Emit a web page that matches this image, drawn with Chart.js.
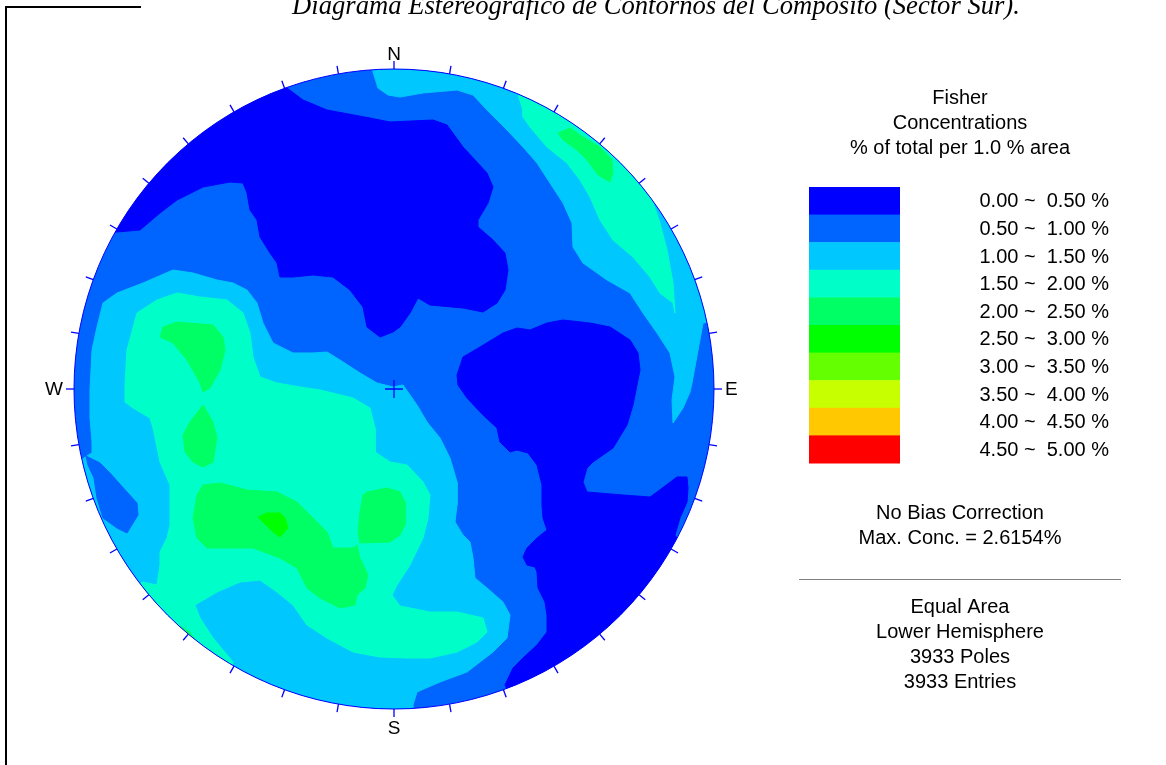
<!DOCTYPE html>
<html>
<head>
<meta charset="utf-8">
<script src="https://cdn.jsdelivr.net/npm/chart.js@4.4.1/dist/chart.umd.min.js"></script>
<style>
  html, body { margin: 0; padding: 0; background: #fff; }
  #net { display: block; }
</style>
</head>
<body>
<canvas id="net" width="1166" height="765"></canvas>
<script>
// contour classes (Fisher concentration, % of total per 1 % area)
var levelLabels = ['0.00 ~  0.50 %', '0.50 ~  1.00 %', '1.00 ~  1.50 %', '1.50 ~  2.00 %', '2.00 ~  2.50 %',
	'2.50 ~  3.00 %', '3.00 ~  3.50 %', '3.50 ~  4.00 %', '4.00 ~  4.50 %', '4.50 ~  5.00 %'];
var levelColors = ['#0000ff', '#0064ff', '#00c8ff', '#00ffc8', '#00ff64',
	'#00ff00', '#64ff00', '#c8ff00', '#ffc800', '#ff0000'];

// net radius in projection units, background class
var netRadius = 32;
var baseLevel = 1;

// contour outlines (x east, y north)
var lowNW = [[-28.9,15.6],[-25.4,15.9],[-23.4,17.6],[-21.7,18.9],[-19.1,20.2],[-16.4,20.7],[-15.1,20.6],[-14.7,19.6],
	[-14.4,17.9],[-13.7,16.9],[-13.4,15.2],[-12.4,13.6],[-11.7,12.6],[-11.4,11.2],[-10.1,11.2],[-8.1,11.4],[-6.1,11.2],
	[-4.4,9.9],[-3.1,8.2],[-2.7,6.2],[-1.4,5.2],[-0.1,5.7],[0.6,6.2],[1.6,7.6],[2.4,9.1],[3.6,8.4],[6.9,8.1],[8.9,7.7],
	[10.3,8.6],[11.1,9.9],[11.4,11.9],[11.1,13.6],[9.9,14.9],[8.4,16.2],[8.4,16.9],[9.4,18.6],[9.9,20.2],[9.3,21.6],
	[6.9,24.2],[5.3,26.4],[3.9,26.9],[-0.4,26.7],[-2.4,27.1],[-6.7,27.9],[-9.1,28.9],[-10.7,30.1],[-12.4,32.9],
	[-27.4,26.9],[-31.4,15.9]];
var lowEast = [[6.3,1.4],[6.9,3.2],[8.6,4.2],[10.9,5.6],[12.3,6.1],[13.6,5.9],[15.3,6.6],[16.9,6.9],[19.6,6.6],
	[21.6,6.2],[23.6,4.9],[24.4,3.6],[24.6,1.9],[24.3,0.4],[23.9,-1.6],[23.3,-3.6],[21.9,-5.9],[19.9,-7.3],[19.3,-7.9],
	[18.9,-9.3],[19.3,-10.3],[22.9,-10.6],[25.6,-10.8],[26.3,-10.3],[28.3,-8.8],[29.3,-8.8],[29.4,-9.9],[29.3,-11.3],
	[28.6,-12.9],[28.1,-14.6],[29.6,-17.1],[12.6,-33.1],[11.1,-29.6],[11.9,-27.9],[12.9,-26.9],[14.3,-25.6],
	[15.3,-24.3],[15.3,-22.6],[15.1,-21.3],[14.4,-19.9],[14.3,-18.3],[14.1,-17.8],[13.3,-17.6],[12.9,-16.8],
	[13.3,-15.9],[14.3,-14.9],[15.3,-14.1],[14.9,-12.9],[14.8,-11.6],[14.8,-9.6],[14.3,-7.6],[13.4,-6.4],[12.3,-6.1],
	[11.6,-6.3],[10.6,-5.3],[10.3,-3.9],[8.9,-2.6],[7.3,-0.9],[6.4,0.4]];
var midNE = [[-2.4,32.9],[-2.1,31.7],[-1.6,30.1],[-0.6,29.4],[0.6,29.2],[2.9,29.6],[6.3,29.9],[7.9,29.4],[9.3,27.9],
	[11.3,25.9],[12.9,24.2],[14.3,22.6],[15.6,20.6],[16.9,18.6],[17.8,16.6],[17.9,14.2],[18.9,12.6],[21.3,10.9],
	[23.6,9.6],[24.9,7.6],[26.3,5.6],[27.6,3.6],[28.1,1.2],[27.8,-1.1],[27.9,-3.4],[28.9,-1.9],[29.6,-0.3],[29.8,0.6],
	[30.9,6.6],[32.6,6.9],[33.6,18.9],[20.6,34.9],[0.6,34.9]];
var midSW = [[-29.1,8.6],[-27.7,9.6],[-25.1,10.6],[-22.1,11.9],[-20.1,11.6],[-17.7,10.9],[-16.1,10.6],[-14.7,9.9],
	[-13.7,8.6],[-13.1,6.6],[-12.1,4.6],[-10.1,3.6],[-8.1,3.6],[-6.7,3.7],[-5.4,2.9],[-3.4,1.6],[-1.7,0.6],[-0.1,0.2],
	[0.9,0.4],[2.3,-1.6],[3.3,-3.3],[4.6,-4.9],[5.6,-6.9],[6.3,-9.3],[6.3,-11.6],[6.1,-13.3],[6.9,-14.6],[7.6,-15.3],
	[7.9,-16.9],[8.1,-18.9],[9.3,-19.9],[10.9,-21.3],[11.6,-22.6],[11.3,-24.9],[9.9,-26.3],[7.3,-28.3],[4.6,-29.3],
	[2.3,-30.3],[1.9,-31.6],[2.1,-34.1],[-29.4,-31.1],[-35.4,-8.1],[-31.6,-7.3],[-30.1,-6.3],[-30.2,-5.3],
	[-30.4,-2.9],[-30.4,-0.1],[-30.2,3.9],[-29.7,6.2]];
var baseBlobW = [[-30.8,-6.7],[-29.4,-7.4],[-28.4,-8.4],[-26.7,-10.3],[-25.7,-11.4],[-25.6,-12.6],[-26.7,-14.4],
	[-27.7,-13.9],[-29.1,-12.9],[-29.7,-10.9],[-30.0,-8.9],[-30.6,-7.6]];
var highNE = [[12.1,30.4],[12.9,27.9],[12.9,27.2],[13.6,26.2],[15.3,24.2],[17.3,22.6],[18.6,20.9],[19.6,19.2],
	[20.6,16.9],[21.9,14.9],[23.9,13.2],[25.6,11.2],[26.6,9.6],[27.9,8.6],[28.1,7.6],[27.9,10.6],[27.3,13.9],
	[26.6,16.6],[25.8,18.9],[26.6,20.9],[20.6,29.9]];
var highW = [[-26.7,3.9],[-25.7,7.6],[-23.7,8.9],[-21.7,9.6],[-19.4,9.2],[-16.7,8.9],[-15.1,7.6],[-14.4,5.6],
	[-14.1,3.2],[-13.4,1.2],[-11.7,0.6],[-9.4,0.2],[-7.4,-0.1],[-4.1,-0.9],[-2.4,-1.9],[-1.9,-3.9],[-1.9,-6.3],
	[-0.4,-7.3],[1.3,-7.6],[2.9,-9.3],[3.6,-10.6],[3.4,-12.9],[2.9,-14.9],[1.6,-17.6],[0.3,-19.6],[-0.2,-20.6],
	[0.6,-21.7],[3.6,-22.3],[6.3,-22.3],[8.9,-22.9],[9.3,-24.3],[8.3,-25.3],[6.3,-26.3],[3.6,-26.9],[1.3,-26.9],
	[-1.4,-26.8],[-4.1,-26.3],[-6.7,-24.9],[-8.7,-23.6],[-10.1,-21.6],[-11.7,-20.3],[-13.4,-19.1],[-15.4,-19.3],
	[-17.7,-20.3],[-19.9,-21.6],[-19.4,-22.9],[-18.1,-24.9],[-16.1,-27.3],[-16.9,-31.1],[-27.4,-22.1],[-25.2,-19.3],
	[-23.7,-19.6],[-23.4,-17.6],[-23.4,-16.3],[-22.7,-14.9],[-22.4,-13.6],[-22.4,-9.6],[-23.4,-7.3],[-24.1,-3.9],
	[-24.4,-2.9],[-26.1,-1.9],[-26.9,-1.3],[-26.9,0.4]];
var peakNE = [[16.4,25.6],[17.6,26.1],[18.9,25.2],[20.6,24.2],[21.8,22.9],[21.9,21.6],[21.6,20.7],[20.4,21.4],
	[19.3,22.9],[18.3,23.9],[16.9,24.9]];
var peakNW = [[-23.1,6.2],[-21.7,6.7],[-18.1,6.4],[-17.1,5.2],[-16.9,3.9],[-17.4,1.9],[-18.4,0.1],[-19.1,-0.3],
	[-19.4,0.6],[-20.7,2.9],[-22.1,4.6],[-23.4,5.2]];
var peakW = [[-19.1,-1.6],[-18.1,-3.3],[-17.7,-4.9],[-18.1,-7.3],[-19.1,-7.8],[-20.1,-7.3],[-20.9,-6.3],
	[-21.1,-4.6],[-20.4,-3.3]];
var peakSW = [[-19.1,-9.6],[-17.4,-9.4],[-14.7,-10.1],[-11.7,-10.3],[-9.7,-11.3],[-8.1,-12.9],[-6.7,-14.3],
	[-6.1,-15.9],[-4.1,-15.9],[-3.7,-15.6],[-3.4,-16.9],[-2.6,-18.6],[-2.9,-19.9],[-3.7,-20.6],[-3.9,-21.6],
	[-5.4,-21.9],[-7.4,-20.9],[-8.7,-19.9],[-9.7,-17.9],[-11.4,-16.9],[-14.1,-15.9],[-16.7,-15.9],[-18.7,-15.9],
	[-19.7,-14.9],[-20.1,-12.9],[-19.7,-10.6]];
var peakS = [[-3.1,-10.6],[-2.7,-10.3],[-0.7,-9.9],[0.6,-10.3],[1.1,-11.3],[1.1,-13.6],[0.6,-14.6],[-0.4,-15.3],
	[-3.4,-15.4],[-3.6,-14.3],[-3.4,-12.3]];
var peakRim = [[-21.4,-23.7],[-20.4,-24.3],[-19.8,-25.3],[-21.0,-25.1]];
var maxSW = [[-13.6,-12.8],[-12.7,-12.4],[-11.4,-12.4],[-10.9,-12.9],[-10.6,-13.9],[-11.4,-14.8],[-12.1,-14.3],
	[-13.1,-13.3]];

// painting order: [class index, outline]
var regions = [[0, lowNW], [0, lowEast], [2, midNE], [2, midSW], [1, baseBlobW], [3, highNE], [3, highW],
	[4, peakNE], [4, peakNW], [4, peakW], [4, peakSW], [4, peakS], [4, peakRim], [5, maxSW]];

var titleText = 'Diagrama Estereográfico de Contornos del Compósito (Sector Sur).';
var headerLines = ['Fisher', 'Concentrations', '% of total per 1.0 % area'];
var noteLines = ['No Bias Correction', 'Max. Conc. = 2.6154%'];
var infoLines = ['Equal Area', 'Lower Hemisphere', '3933 Poles', '3933 Entries'];

var SANS = '"Liberation Sans", Arial, sans-serif';

var datasets = regions.map(function(r, i) {
	var pts = r[1].map(function(p) { return {x: p[0], y: p[1]}; });
	pts.push({x: r[1][0][0], y: r[1][0][1]});
	return {
		data: pts,
		showLine: true,
		fill: 'shape',
		tension: 0,
		backgroundColor: levelColors[r[0]],
		borderColor: levelColors[r[0]],
		borderWidth: 1,
		pointRadius: 0,
		pointHoverRadius: 0,
		order: regions.length - i
	};
});

var netPlugin = {
	id: 'net',
	beforeDatasetsDraw: function(chart) {
		var ctx = chart.ctx, sx = chart.scales.x, sy = chart.scales.y;
		var cx = sx.getPixelForValue(0), cy = sy.getPixelForValue(0);
		var r = sx.getPixelForValue(netRadius) - cx;
		ctx.save();
		ctx.beginPath();
		ctx.arc(cx, cy, r, 0, Math.PI * 2);
		ctx.fillStyle = levelColors[baseLevel];
		ctx.fill();
		ctx.clip();
	},
	afterDatasetsDraw: function(chart) {
		var ctx = chart.ctx, sx = chart.scales.x, sy = chart.scales.y;
		ctx.restore();
		var cx = sx.getPixelForValue(0), cy = sy.getPixelForValue(0);
		var r = sx.getPixelForValue(netRadius) - cx;
		ctx.save();
		ctx.strokeStyle = '#0000ff';
		ctx.lineWidth = 1;
		ctx.beginPath();
		ctx.arc(cx, cy, r, 0, Math.PI * 2);
		ctx.stroke();
		// azimuth ticks every 10 degrees
		ctx.lineWidth = 1.3;
		for (var a = 0; a < 360; a += 10) {
			var t = a * Math.PI / 180;
			ctx.beginPath();
			ctx.moveTo(cx + r * Math.sin(t), cy - r * Math.cos(t));
			ctx.lineTo(cx + (r + 8) * Math.sin(t), cy - (r + 8) * Math.cos(t));
			ctx.stroke();
		}
		// centre cross
		ctx.beginPath();
		ctx.moveTo(cx - 9, cy); ctx.lineTo(cx + 9, cy);
		ctx.moveTo(cx, cy - 9); ctx.lineTo(cx, cy + 9);
		ctx.stroke();
		// cardinal letters
		ctx.fillStyle = '#000';
		ctx.font = '19px ' + SANS;
		ctx.textAlign = 'center';
		ctx.textBaseline = 'alphabetic';
		ctx.fillText('N', cx, cy - r - 9);
		ctx.fillText('S', cx, cy + r + 25);
		ctx.textBaseline = 'middle';
		ctx.textAlign = 'left';
		ctx.fillText('E', cx + r + 11, cy + 1);
		ctx.textAlign = 'right';
		ctx.fillText('W', cx - r - 11, cy + 1);
		ctx.restore();
	},
	afterDraw: function(chart) {
		var ctx = chart.ctx;
		ctx.save();
		// frame corner
		ctx.strokeStyle = '#000';
		ctx.lineWidth = 2;
		ctx.beginPath();
		ctx.moveTo(141, 7); ctx.lineTo(6, 7); ctx.lineTo(6, 765);
		ctx.stroke();
		// title
		ctx.fillStyle = '#000';
		ctx.font = 'italic 26px "Liberation Serif", "Times New Roman", serif';
		var w = ctx.measureText(titleText).width;
		var fs = 26 * 728 / w;
		ctx.font = 'italic ' + fs.toFixed(2) + 'px "Liberation Serif", "Times New Roman", serif';
		ctx.textAlign = 'center';
		ctx.textBaseline = 'alphabetic';
		ctx.fillText(titleText, 656, 14);
		// legend
		ctx.font = '20px ' + SANS;
		ctx.textBaseline = 'middle';
		headerLines.forEach(function(s, i) { ctx.fillText(s, 960, 98 + i * 25); });
		var boxTop = 187, boxH = 27.6;
		levelColors.forEach(function(c, i) {
			ctx.fillStyle = c;
			ctx.fillRect(809, boxTop + i * boxH, 91, boxH + 0.5);
		});
		ctx.fillStyle = '#000';
		ctx.textAlign = 'right';
		levelLabels.forEach(function(s, i) { ctx.fillText(s, 1109, boxTop + i * boxH + boxH / 2 + 1); });
		ctx.textAlign = 'center';
		noteLines.forEach(function(s, i) { ctx.fillText(s, 960, 513 + i * 25); });
		ctx.strokeStyle = '#808080';
		ctx.lineWidth = 1;
		ctx.beginPath();
		ctx.moveTo(799, 579.5); ctx.lineTo(1121, 579.5);
		ctx.stroke();
		infoLines.forEach(function(s, i) { ctx.fillText(s, 960, 607 + i * 25.3); });
		ctx.restore();
	}
};

var netChart = new Chart(document.getElementById('net').getContext('2d'), {
	type: 'scatter',
	data: { datasets: datasets },
	options: {
		responsive: false,
		animation: false,
		layout: { padding: { left: 74, top: 69, right: 452, bottom: 56 } },
		scales: {
			x: { type: 'linear', min: -netRadius, max: netRadius, display: false },
			y: { type: 'linear', min: -netRadius, max: netRadius, display: false }
		},
		plugins: {
			legend: { display: false },
			tooltip: { enabled: false },
			title: { display: false }
		},
		events: []
	},
	plugins: [netPlugin]
});
</script>
</body>
</html>
